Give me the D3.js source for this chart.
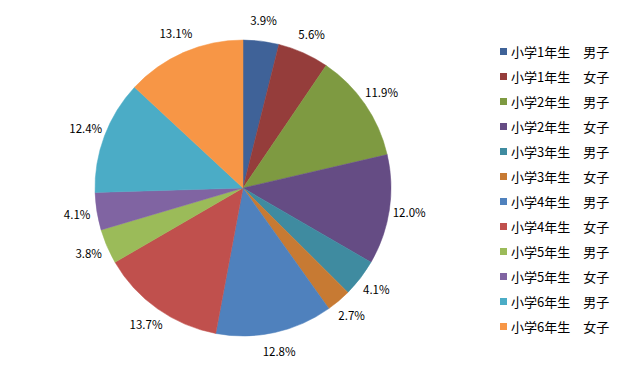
<!DOCTYPE html>
<html>
<head>
<meta charset="utf-8">
<script src="https://cdn.jsdelivr.net/npm/d3@7"></script>
<style>
  body { margin: 0; background: #fff; }
  text { font-family: "Noto Sans CJK JP", "Noto Sans", sans-serif; fill: #000; }
</style>
</head>
<body>
<script>
// chart data
var categories = ["小学1年生　男子", "小学1年生　女子", "小学2年生　男子", "小学2年生　女子",
  "小学3年生　男子", "小学3年生　女子", "小学4年生　男子", "小学4年生　女子",
  "小学5年生　男子", "小学5年生　女子", "小学6年生　男子", "小学6年生　女子"];
var values = [3.9, 5.6, 11.9, 12.0, 4.1, 2.7, 12.8, 13.7, 3.8, 4.1, 12.4, 13.1];
var colors = ["#3f6298", "#953d3b", "#7e9a41", "#654c84", "#3f8ba0", "#c77a33",
  "#4f81bd", "#c0504d", "#9bbb59", "#8064a2", "#4bacc6", "#f79646"];

var svgWidth = 620;
var svgHeight = 370;

var svg = d3.select("body")
  .append("svg")
  .attr("width", svgWidth)
  .attr("height", svgHeight);

// pie
var cx = 243, cy = 188, radius = 148, labelRadius = 168;

var pie = d3.pie().sort(null).value(d => d);
var arcs = pie(values);

var arc = d3.arc().innerRadius(0).outerRadius(radius);
var labelArc = d3.arc().innerRadius(labelRadius).outerRadius(labelRadius);

var pieGroup = svg.append("g")
  .attr("transform", `translate(${cx}, ${cy})`);

pieGroup.selectAll("path")
  .data(arcs)
  .enter()
  .append("path")
  .attr("d", arc)
  .attr("fill", (d, i) => colors[i])
  .attr("stroke", (d, i) => colors[i])
  .attr("stroke-width", 0.5);

pieGroup.selectAll("text")
  .data(arcs)
  .enter()
  .append("text")
  .attr("transform", d => `translate(${labelArc.centroid(d)})`)
  .attr("text-anchor", "middle")
  .attr("dy", "0.35em")
  .style("font-size", "11.5px")
  .text(d => d.data.toFixed(1) + "%");

// legend
var legendY = d3.scalePoint()
  .domain(categories)
  .range([52, 327]);

var legend = svg.append("g");

legend.selectAll("rect")
  .data(categories)
  .enter()
  .append("rect")
  .attr("x", 500)
  .attr("y", d => legendY(d) - 4)
  .attr("width", 7)
  .attr("height", 7)
  .attr("fill", (d, i) => colors[i]);

legend.selectAll("text")
  .data(categories)
  .enter()
  .append("text")
  .attr("x", 511)
  .attr("y", d => legendY(d))
  .attr("dy", "0.35em")
  .style("font-size", "13px")
  .text(d => d);
</script>
</body>
</html>
